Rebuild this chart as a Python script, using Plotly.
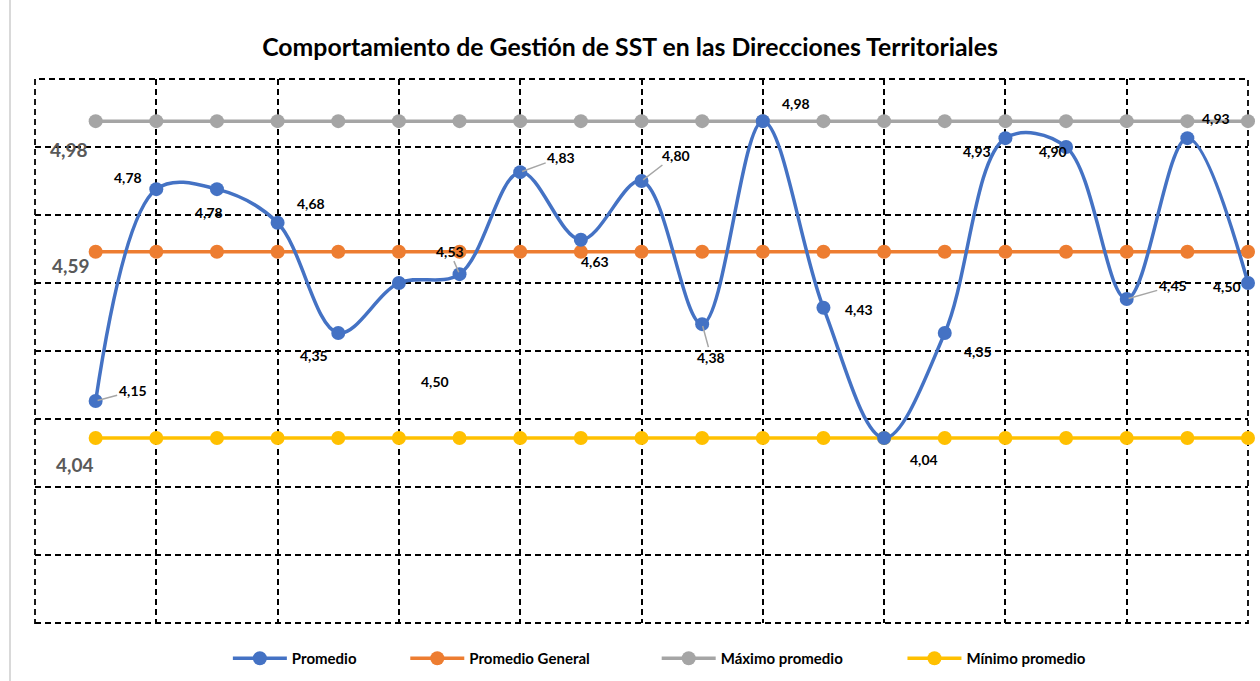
import plotly.graph_objects as go

# ---------------- data ----------------
categories = list(range(1, 21))
promedio = [4.153, 4.776, 4.776, 4.677, 4.353, 4.50, 4.526, 4.826, 4.627, 4.80,
            4.379, 4.976, 4.427, 4.044, 4.353, 4.926, 4.90, 4.453, 4.926, 4.50]
promedio_general_valor = 4.592
maximo_valor = 4.976
minimo_valor = 4.044
promedio_general = [promedio_general_valor] * len(categories)
maximo = [maximo_valor] * len(categories)
minimo = [minimo_valor] * len(categories)
series_names = ["Promedio", "Promedio General", "Máximo promedio", "Mínimo promedio"]

# ---------------- styles ----------------
colors = ["#4472C4", "#ED7D31", "#A5A5A5", "#FFC000"]
# label offsets in pixels (dx right, dy down) and whether a leader line is drawn
label_offsets = [(37, -10, True), (-28, -12, False), (-8, 23, False), (33, -19, False),
                 (-24, 23, False), (36, 98, False), (-10, -23, True), (41, -15, True),
                 (14, 22, False), (34, -26, True), (9, 33, True), (33, -18, False),
                 (36, 2, False), (40, 21, False), (33, 19, False), (-28, 13, False),
                 (-13, 4, False), (46, -13, True), (29, -20, False), (-21, 3, False)]
ref_offsets = [(-25, 14), (-27, 28), (-21, 26)]
legend_pads = [12, 17, 15, 0]

FONT = "Lato"
GRID_DASH = "6px,4px"

fig = go.Figure()
all_series = [promedio, promedio_general, maximo, minimo]
order = [1, 2, 3, 0]
for i in order:
    name = series_names[i] + "\u00a0" * legend_pads[i]
    fig.add_trace(go.Scatter(
        x=categories, y=all_series[i], name=name,
        mode="lines+markers", cliponaxis=False,
        line=dict(color=colors[i], width=3.5, shape="spline" if i == 0 else "linear"),
        marker=dict(color=colors[i], size=14),
        legendrank=i + 1,
    ))

def fmt(v):
    return f"{v:.2f}".replace(".", ",")

annotations = []
for xc, v, (dx, dy, lead) in zip(categories, promedio, label_offsets):
    if lead:
        annotations.append(dict(x=xc, y=v, xref="x", yref="y", text=fmt(v),
                                showarrow=True, arrowhead=0, arrowwidth=1.5,
                                arrowcolor="#A6A6A6", ax=dx, ay=dy, standoff=2,
                                font=dict(family=FONT, size=14, color="#000000", weight="bold")))
    else:
        annotations.append(dict(x=xc, y=v, xref="x", yref="y", text=fmt(v),
                                showarrow=False, xshift=dx, yshift=-dy,
                                font=dict(family=FONT, size=14, color="#000000", weight="bold")))

for series, (dx, dy) in zip([promedio_general, maximo, minimo], ref_offsets):
    annotations.append(dict(x=categories[0], y=series[0], xref="x", yref="y",
                            text=fmt(series[0]), showarrow=False, xshift=dx, yshift=-dy,
                            font=dict(family=FONT, size=19, color="#595959", weight="bold")))

fig.update_layout(
    width=1260, height=681,
    margin=dict(l=35, r=12, t=79, b=58, autoexpand=False),
    paper_bgcolor="white", plot_bgcolor="white",
    title=dict(text="Comportamiento de Gestión de SST en las Direcciones Territoriales",
               x=0.5, xanchor="center", y=0.931, yanchor="middle",
               font=dict(family=FONT, size=24.8, color="#000000", weight="bold")),
    xaxis=dict(range=[0, 20], tickvals=list(range(0, 21, 2)), showticklabels=False,
               showgrid=True, gridcolor="#000000", gridwidth=1.8, griddash=GRID_DASH,
               zeroline=False, showline=False, ticks=""),
    yaxis=dict(range=[3.5, 5.1], tickvals=[3.5 + 0.2 * k for k in range(9)],
               showticklabels=False, showgrid=True, gridcolor="#000000", gridwidth=1.8,
               griddash=GRID_DASH, zeroline=False, showline=False, ticks=""),
    legend=dict(orientation="h", x=0.159, xanchor="left", y=-0.035, yanchor="top",
                font=dict(family=FONT, size=15, color="#000000", weight="bold"),
                traceorder="normal", itemwidth=54),
    annotations=annotations,
    shapes=[
        dict(type="rect", xref="paper", yref="paper", x0=0, x1=1, y0=0, y1=1,
             layer="below", line=dict(color="#000000", width=1.8, dash=GRID_DASH)),
        dict(type="line", xref="paper", yref="paper", x0=-0.0206, x1=-0.0206,
             y0=-0.2, y1=1.2, line=dict(color="#D9D9D9", width=2)),
    ],
    showlegend=True,
)

fig.write_html("out.html", config={"displayModeBar": False},
               post_script="document.body.style.margin='0px';")
